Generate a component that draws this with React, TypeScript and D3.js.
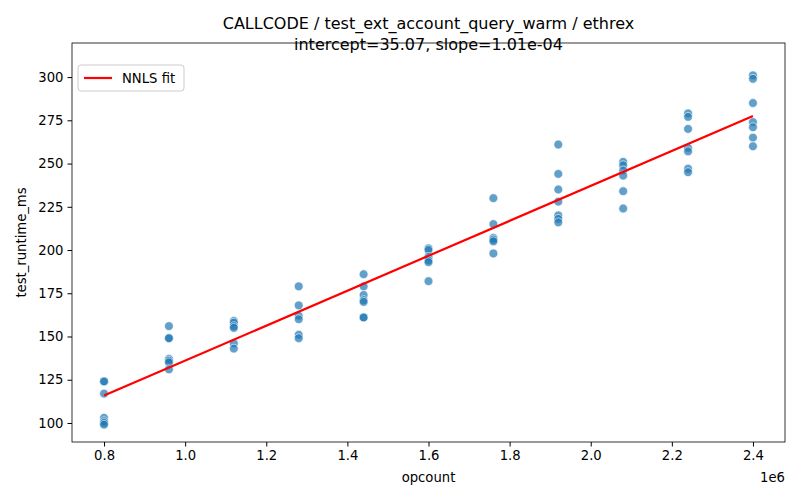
import { useRef, useEffect } from 'react';
import * as d3 from 'd3';

const opcounts = [0.8e6, 0.96e6, 1.12e6, 1.28e6, 1.44e6, 1.6e6, 1.76e6, 1.92e6, 2.08e6, 2.24e6, 2.4e6];
const runtimes: number[][] = [
  [124, 124, 117, 103, 101, 100, 99],
  [156, 149, 149, 137, 136, 135, 131],
  [159, 158, 156, 155, 146, 143],
  [179, 168, 162, 160, 151, 149],
  [186, 179, 174, 171, 170, 161, 161],
  [201, 200, 196, 194, 193, 182],
  [230, 215, 207, 206, 205, 198],
  [261, 244, 235, 228, 220, 218, 216],
  [251, 249, 246, 243, 234, 224],
  [279, 277, 270, 259, 257, 247, 245],
  [301, 299, 285, 274, 271, 265, 260],
];
const intercept = 35.07;
const slope = 1.01e-4;
const xTicks = [0.8, 1.0, 1.2, 1.4, 1.6, 1.8, 2.0, 2.2, 2.4];
const yTicks = [100, 125, 150, 175, 200, 225, 250, 275, 300];

export default function App() {
  const svgRef = useRef<SVGSVGElement | null>(null);
  const width = 800;
  const height = 500;

  useEffect(() => {
    if (!svgRef.current) return;
    const svg = d3.select(svgRef.current);
    svg.selectAll('*').remove();

    const margin = { top: 43, right: 15, bottom: 58, left: 72 };
    const innerWidth = width - margin.left - margin.right;
    const innerHeight = height - margin.top - margin.bottom;
    const font = 'DejaVu Sans, sans-serif';
    const fs = 13.2;

    const x = d3.scaleLinear().domain([0.721e6, 2.479e6]).range([0, innerWidth]);
    const y = d3.scaleLinear().domain([89, 319.7]).range([innerHeight, 0]);

    const g = svg.append('g').attr('transform', `translate(${margin.left},${margin.top})`);

    const points = opcounts.flatMap((o, i) => runtimes[i].map((v) => ({ o, v })));
    g.selectAll('circle')
      .data(points)
      .enter()
      .append('circle')
      .attr('cx', (d) => x(d.o))
      .attr('cy', (d) => y(d.v))
      .attr('r', 4.4)
      .attr('fill', '#1f77b4')
      .attr('fill-opacity', 0.7)
      .attr('stroke', '#fff')
      .attr('stroke-width', 0.6);

    const fitX = [opcounts[0], opcounts[opcounts.length - 1]];
    const line = d3
      .line<number>()
      .x((d) => x(d))
      .y((d) => y(intercept + slope * d));
    g.append('path').datum(fitX).attr('d', line).attr('stroke', 'red').attr('stroke-width', 2.2).attr('fill', 'none');

    const xAxis = g
      .append('g')
      .attr('transform', `translate(0,${innerHeight})`)
      .call(d3.axisBottom(x).tickValues(xTicks.map((t) => t * 1e6)).tickFormat((d) => ((d as number) / 1e6).toFixed(1)).tickSize(4.5).tickPadding(4));
    const yAxis = g.append('g').call(d3.axisLeft(y).tickValues(yTicks).tickSize(4.5).tickPadding(4));
    [xAxis, yAxis].forEach((a) => {
      a.selectAll('text').attr('font-size', fs).attr('font-family', font).attr('fill', '#000');
      a.select('.domain').remove();
    });

    g.append('rect')
      .attr('width', innerWidth)
      .attr('height', innerHeight)
      .attr('fill', 'none')
      .attr('stroke', '#000')
      .attr('stroke-width', 0.8);

    g.append('text')
      .attr('x', innerWidth)
      .attr('y', innerHeight + 40)
      .attr('text-anchor', 'end')
      .attr('font-size', fs)
      .attr('font-family', font)
      .text('1e6');

    g.append('text')
      .attr('x', innerWidth / 2)
      .attr('y', innerHeight + 40)
      .attr('text-anchor', 'middle')
      .attr('font-size', fs)
      .attr('font-family', font)
      .text('opcount');

    g.append('text')
      .attr('transform', `translate(${-46},${innerHeight / 2}) rotate(-90)`)
      .attr('text-anchor', 'middle')
      .attr('font-size', fs)
      .attr('font-family', font)
      .text('test_runtime_ms');

    const title = svg
      .append('text')
      .attr('text-anchor', 'middle')
      .attr('font-size', 16)
      .attr('font-family', font);
    title.append('tspan').attr('x', margin.left + innerWidth / 2).attr('y', 29).text('CALLCODE / test_ext_account_query_warm / ethrex');
    title.append('tspan').attr('x', margin.left + innerWidth / 2).attr('y', 50).text('intercept=35.07, slope=1.01e-04');

    const legend = g.append('g').attr('transform', 'translate(6,22)');
    legend
      .append('rect')
      .attr('width', 106)
      .attr('height', 26)
      .attr('rx', 3)
      .attr('fill', '#fff')
      .attr('fill-opacity', 0.8)
      .attr('stroke', '#ccc');
    legend.append('line').attr('x1', 6).attr('x2', 34).attr('y1', 13).attr('y2', 13).attr('stroke', 'red').attr('stroke-width', 2.2);
    legend
      .append('text')
      .attr('x', 44)
      .attr('y', 17.5)
      .attr('font-size', fs)
      .attr('font-family', font)
      .text('NNLS fit');
  }, []);

  return <svg ref={svgRef} width={width} height={height} style={{ position: 'absolute', left: 0, top: 0, background: '#fff' }} />;
}
